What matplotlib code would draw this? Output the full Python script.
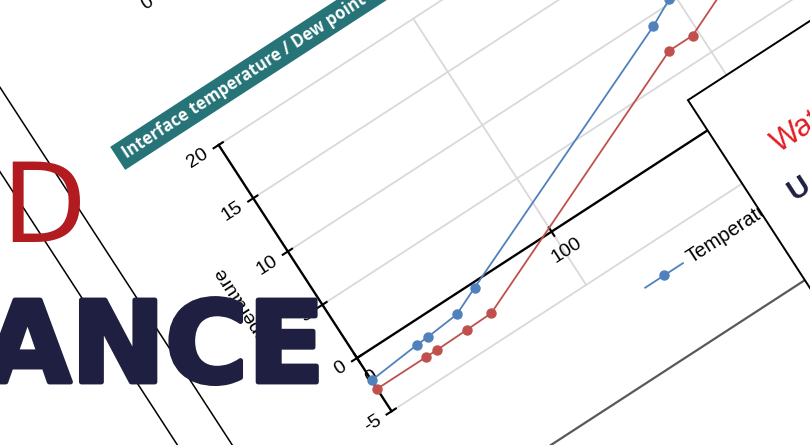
import matplotlib
matplotlib.use("Agg")
import matplotlib.pyplot as plt
from matplotlib.transforms import Affine2D
from matplotlib.patches import Rectangle
import matplotlib.patheffects as pe

# ---------------- data ----------------
positions = [0, 25, 30.7, 46.3, 59, 185, 197, 260]
interface_temp = [-2.1, -1.7, -1.65, -1.4, -0.4, 9.2, 10.3, 15.0]
dew_point = [-2.9, -2.9, -2.9, -2.85, -2.8, 6.9, 6.9, 11.8]
y_ticks = [-5, 0, 5, 10, 15, 20]
x_ticks = [0, 100, 200, 300]
x_limits = (0, 300)
y_limits = (-5, 20)
series_names = ["Temperature", "Dew point"]
title_text = "Interface temperature / Dew point at interfaces"
y_title = "Temperature"

# ---------------- styles ----------------
BLUE = "#4F81BD"
RED = "#C0504D"
GRID = "#D9D9D9"
TEAL = "#267378"
NAVY = "#1F2041"
DRED = "#B21B1F"
BRIGHT_RED = "#E31E24"
ANGLE = 33.0
ORIGIN = (357, 87)
SX, SY = 2.32, 12.7
FONT = "Liberation Sans"
FS = 14

fig = plt.figure(figsize=(8.1, 4.45), dpi=100)
ax = fig.add_axes([0, 0, 1, 1])
ax.set_xlim(0, 810)
ax.set_ylim(0, 445)
ax.axis("off")

# local (pixel) frame aligned with the rotated chart, and data frame
F = Affine2D().rotate_deg(ANGLE).translate(*ORIGIN) + ax.transData
D = Affine2D().scale(SX, SY) + F

# background slide lines
for u in (-152, -198):
    ax.plot([u, u], [-700, 900], transform=F, color="black", lw=1.1, zorder=1)

# chart area bottom border
ax.plot([-500, 800], [-178.6, -178.6], transform=F, color="#595959", lw=1.6, zorder=2)

# title banner
ax.add_patch(Rectangle((-92, 284), 1000, 27.5, transform=F, facecolor=TEAL,
                       edgecolor="none", zorder=3))
ax.text(-84, 297.5, title_text, transform=F, rotation=ANGLE, rotation_mode="anchor",
        ha="left", va="center", color="white", fontweight="bold", fontsize=12,
        family="Open Sans", zorder=4)

# top stray label from chart above
ax.text(17, 412, "0", transform=F, rotation=ANGLE, rotation_mode="anchor",
        ha="center", va="center", fontsize=FS, family=FONT, zorder=4)

# gridlines
for y in y_ticks:
    if y != 0:
        ax.plot(x_limits, [y, y], transform=D, color=GRID, lw=1.3, zorder=3)
for x in x_ticks[1:]:
    ax.plot([x, x], y_limits, transform=D, color=GRID, lw=1.3, zorder=3)

# axes
ax.plot(x_limits, [0, 0], transform=D, color="black", lw=1.7, zorder=4)
ax.plot([0, 0], y_limits, transform=D, color="black", lw=1.7, zorder=4)
for y in y_ticks:
    ax.plot([-6, 5], [y * SY, y * SY], transform=F, color="black", lw=1.5, zorder=4)
    ax.text(-14, y * SY, str(y), transform=F, rotation=ANGLE, rotation_mode="anchor",
            ha="right", va="center", fontsize=FS, family=FONT, zorder=4)
for x in x_ticks:
    ax.plot([x * SX, x * SX], [-5, 5], transform=F, color="black", lw=1.5, zorder=4)
    ax.text(x * SX + 2, -24, str(x), transform=F, rotation=ANGLE, rotation_mode="anchor",
            ha="center", va="center", fontsize=FS, family=FONT, zorder=4)

ax.text(-67, 7.5 * SY, y_title, transform=F, rotation=ANGLE + 90, rotation_mode="anchor",
        ha="center", va="center", fontsize=FS, family=FONT, zorder=4)

# data series
ax.plot(positions, interface_temp, transform=D, color=BLUE, lw=1.3, marker="o",
        ms=6.5, zorder=5)
ax.plot(positions, dew_point, transform=D, color=RED, lw=1.3, marker="o",
        ms=6.5, zorder=5)

# legend (drawn in rotated frame)
for i, (name, col) in enumerate(zip(series_names, [BLUE, RED])):
    u0 = 280 + i * 190
    ax.plot([u0, u0 + 45], [-98, -98], transform=F, color=col, lw=1.3, zorder=5)
    ax.plot([u0 + 22.5], [-98], transform=F, color=col, marker="o", ms=6.5, zorder=5)
    ax.text(u0 + 52, -98, name, transform=F, rotation=ANGLE, rotation_mode="anchor",
            ha="left", va="center", fontsize=14.5, family=FONT, zorder=5)

# overlapping white box
ax.add_patch(Rectangle((418, 36 - 700), 700, 700, transform=F, facecolor="white",
                       edgecolor="black", lw=1.4, zorder=8))
ax.text(465, -58, "Water", transform=F, rotation=ANGLE, rotation_mode="anchor",
        ha="left", va="baseline", color=BRIGHT_RED, fontsize=22, family=FONT, zorder=9)
ax.text(452, -106, "U", transform=F, rotation=ANGLE, rotation_mode="anchor",
        ha="left", va="baseline", color=NAVY, fontsize=21, fontweight="bold",
        family=FONT, zorder=9)

# big slide headline text
ax.text(1, 203, "D", color=DRED, fontsize=79, family="DejaVu Sans",
        ha="left", va="baseline", zorder=10)
ax.text(-16, 63, "ANCE", color=NAVY, fontsize=81, fontweight="bold",
        family="DejaVu Sans", ha="left", va="baseline", zorder=10,
        path_effects=[pe.withStroke(linewidth=3.5, foreground=NAVY)])

fig.savefig("out.png", dpi=100, facecolor="white")
